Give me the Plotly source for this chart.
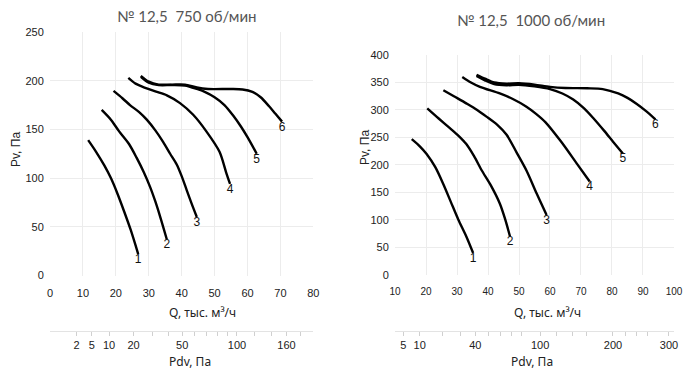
import math
import plotly.graph_objects as go

# ---------------- data: 750 rpm ----------------
q750_1 = [11.6, 14.0, 16.5, 18.5, 20.5, 22.5, 24.5, 26.8]
p750_1 = [139, 127, 113, 100, 84, 66, 47, 22]
q750_2 = [15.7, 18.5, 21.0, 24.0, 26.3, 28.5, 30.4, 32.0, 33.5, 35.5]
p750_2 = [170, 160, 148, 135, 121, 106, 91, 76, 60, 37]
q750_3 = [19.3, 22.0, 24.3, 27.0, 29.4, 32.0, 34.4, 36.5, 38.5, 40.0, 41.5, 43.0, 44.6]
p750_3 = [189.5, 182, 175, 168, 160, 149, 137, 125, 114, 102, 88, 74, 60]
q750_4 = [23.8, 26.0, 28.0, 32.0, 35.5, 39.5, 43.5, 47.5, 51.5, 53.5, 54.7]
p750_4 = [203, 197, 194, 189, 185, 177, 165, 148, 127, 106, 94]
q750_5 = [27.6, 30.0, 33.0, 37.0, 41.0, 44.6, 47.0, 50.0, 53.0, 55.7, 58.0, 60.0, 62.8]
p750_5 = [204, 198, 195.5, 195.5, 195, 191.5, 188.5, 183, 175, 164, 153, 142, 125]
q750_6 = [27.6, 30.0, 33.0, 37.0, 41.0, 44.6, 48.0, 55.0, 58.5, 61.5, 64.0, 66.5, 68.5, 70.5]
p750_6 = [205, 199, 196, 196, 196, 193, 191.5, 191.5, 191, 188.5, 183, 174, 166, 158]

# ---------------- data: 1000 rpm ----------------
q1000_1 = [15.4, 18.0, 20.2, 23.0, 25.6, 28.0, 30.4, 33.0, 35.2]
p1000_1 = [247, 234, 220, 196, 165, 133, 101, 70, 40]
q1000_2 = [20.4, 24.0, 27.7, 30.5, 33.0, 35.5, 38.0, 41.0, 43.8, 45.5, 47.1]
p1000_2 = [303, 285, 267, 253, 238, 216, 190, 162, 130, 102, 70]
q1000_3 = [25.6, 29.0, 33.0, 36.5, 39.5, 43.0, 46.0, 49.2, 52.4, 55.7, 58.9]
p1000_3 = [336, 325, 312, 300, 288, 273, 255, 223, 190, 148, 109]
q1000_4 = [31.7, 34.5, 37.4, 43.8, 48.0, 52.4, 55.5, 58.5, 63.5, 68.6, 72.8]
p1000_4 = [360, 350, 342, 330, 320, 306, 293, 278, 243, 203, 170]
q1000_5 = [36.3, 39.0, 42.0, 46.0, 50.0, 55.0, 60.0, 64.0, 67.5, 71.0, 74.0, 77.5, 80.4, 83.5]
p1000_5 = [362, 354, 347, 345, 346, 343, 338, 330, 319, 303, 285, 262, 242, 221]
q1000_6 = [36.3, 39.0, 42.0, 46.0, 50.0, 55.0, 60.0, 65.0, 72.0, 77.0, 82.0, 85.0, 88.0, 91.0, 94.0]
p1000_6 = [364, 357, 350, 348, 348.5, 346, 342, 340, 339.5, 338, 330, 322, 311, 298, 283]

curve_names = ["1", "2", "3", "4", "5", "6"]

# dynamic pressure scale Pdv = k * Q^2
k_pdv = 0.031
pdv750_labeled = [2, 5, 10, 20, 50, 100, 160]
pdv750_minor = [30, 40, 60, 70, 80, 90, 120, 140, 180]
pdv1000_labeled = [5, 10, 40, 100, 200, 300]
pdv1000_minor = [20, 30, 50, 60, 70, 80, 120, 140, 160, 220, 240, 260]

title750 = "№ 12,5  750 об/мин"
title1000 = "№ 12,5  1000 об/мин"

# ---------------- figure ----------------
fig = go.Figure()

left_q = [q750_1, q750_2, q750_3, q750_4, q750_5, q750_6]
left_p = [p750_1, p750_2, p750_3, p750_4, p750_5, p750_6]
right_q = [q1000_1, q1000_2, q1000_3, q1000_4, q1000_5, q1000_6]
right_p = [p1000_1, p1000_2, p1000_3, p1000_4, p1000_5, p1000_6]

def add_curves(qs, ps, xa, ya):
    for name, q, p in zip(curve_names, qs, ps):
        txt = [""] * (len(q) - 1) + [name]
        fig.add_trace(go.Scatter(
            x=q, y=p, xaxis=xa, yaxis=ya, mode="lines+text",
            text=txt, textposition="bottom center",
            textfont=dict(family="Liberation Sans, Arial", size=12, color="#111"),
            line=dict(color="#000", width=2.4, shape="spline", smoothing=0.8),
            showlegend=False, hoverinfo="skip", cliponaxis=False))

add_curves(left_q, left_p, "x", "y")
add_curves(right_q, right_p, "x2", "y2")

# dummy traces to bind the Pdv axes
fig.add_trace(go.Scatter(x=[0, 80], y=[None, None], xaxis="x3", yaxis="y",
                         mode="lines", showlegend=False, hoverinfo="skip"))
fig.add_trace(go.Scatter(x=[10, 100], y=[None, None], xaxis="x4", yaxis="y2",
                         mode="lines", showlegend=False, hoverinfo="skip"))

def pdv_ticks(labeled, minor):
    vals, texts = [], []
    for p in sorted(labeled + minor):
        vals.append(math.sqrt(p / k_pdv))
        texts.append(str(p) if p in labeled else "")
    return vals, texts

v750, t750 = pdv_ticks(pdv750_labeled, pdv750_minor)
v1000, t1000 = pdv_ticks(pdv1000_labeled, pdv1000_minor)

tickfont = dict(family="Liberation Sans, Arial", size=11, color="#222")
tickfont_small = dict(family="Liberation Sans, Arial", size=10, color="#222")
grid = "#ececec"
clear = "rgba(0,0,0,0)"

base = dict(automargin=False, zeroline=False)
xmain = dict(showgrid=True, gridcolor=grid, showline=False,
             ticks="outside", ticklen=7, tickcolor=clear, **base)
ymain = dict(showgrid=True, gridcolor=grid, showline=False, tickfont=tickfont,
             ticks="outside", ticklen=3, tickcolor=clear, **base)
pdvax = dict(anchor="free", position=0, side="bottom", tickmode="array",
             showgrid=False, showline=True, linecolor="#e3e3e3", tickfont=tickfont,
             ticks="outside", ticklen=4, tickcolor="#d0d0d0", **base)

# page body has an 8px margin: figure sized to fit the 700x382 window
fig.update_layout(
    width=692, height=374,
    margin=dict(l=42, r=26, t=24, b=51, autoexpand=False),
    plot_bgcolor="white", paper_bgcolor="white",
    xaxis=dict(domain=[0, 0.422], range=[0, 80], dtick=10, tick0=0, anchor="y",
               tickfont=tickfont, **xmain),
    yaxis=dict(domain=[0.1856, 1], range=[0, 250], dtick=50, anchor="x", **ymain),
    xaxis2=dict(domain=[0.5529, 1], range=[10, 100], dtick=10, tick0=10, anchor="y2",
                tickfont=tickfont_small, **xmain),
    yaxis2=dict(domain=[0.1873, 0.9231], range=[0, 400], dtick=50, anchor="x2", **ymain),
    xaxis3=dict(domain=[0, 0.422], range=[0, 80], overlaying="x",
                tickvals=v750, ticktext=t750, **pdvax),
    xaxis4=dict(domain=[0.5529, 1], range=[10, 100], overlaying="x2",
                tickvals=v1000, ticktext=t1000, **pdvax),
)

def px2paper(x, y):
    return (x - 50) / 624.0, (331 - y) / 299.0

ann = []
def add_text(txt, x, y, size, color, family, angle=0):
    xp, yp = px2paper(x, y)
    ann.append(dict(text=txt, x=xp, y=yp, xref="paper", yref="paper",
                    showarrow=False, xanchor="center", yanchor="middle",
                    textangle=angle, font=dict(size=size, color=color, family=family)))

title_font = "Lato, Noto Sans"
add_text(title750, 187, 16, 15, "#555", title_font)
add_text(title1000, 531, 20, 15, "#555", title_font)
add_text("Q, тыс. м³/ч", 202, 312, 12, "#222", "Noto Sans, Liberation Sans")
add_text("Q, тыс. м³/ч", 547, 312, 12, "#222", "Noto Sans, Liberation Sans")
add_text("Pdv, Па", 190, 361, 12, "#222", "Noto Sans, Liberation Sans")
add_text("Pdv, Па", 532, 361, 12, "#222", "Noto Sans, Liberation Sans")
add_text("Pv, Па", 16, 150, 12, "#222", "Liberation Sans, Arial", angle=-90)
add_text("Pv, Па", 365, 148, 12, "#222", "Liberation Sans, Arial", angle=-90)
fig.update_layout(annotations=ann)

fig.write_html("out.html")
